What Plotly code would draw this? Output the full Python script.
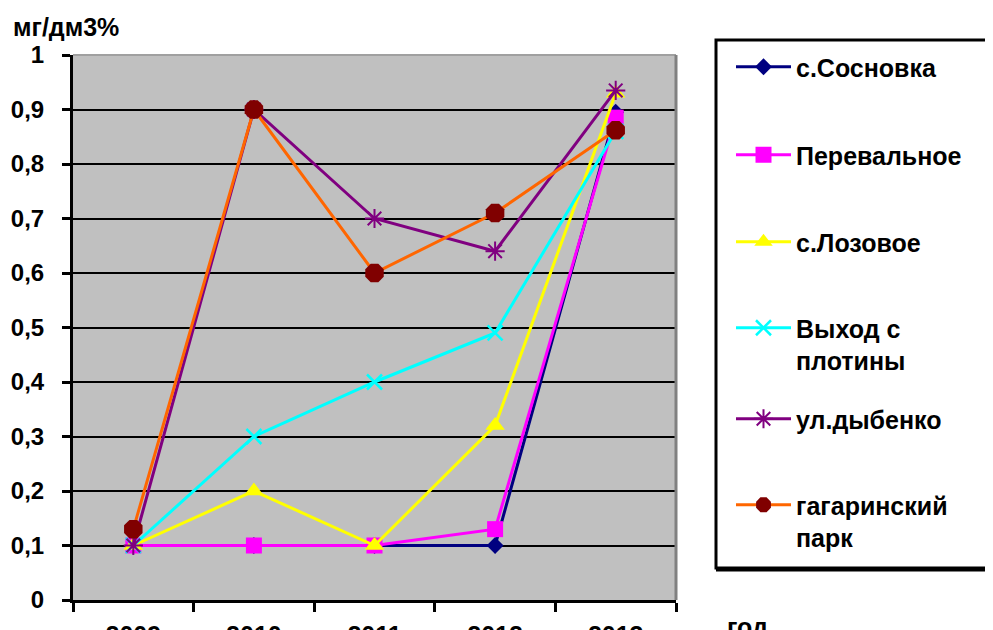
import plotly.graph_objects as go

years = ["2009", "2010", "2011", "2012", "2013"]
sosnovka = [0.1, 0.1, 0.1, 0.1, 0.895]
perevalnoe = [0.1, 0.1, 0.1, 0.13, 0.885]
lozovoe = [0.1, 0.2, 0.1, 0.32, 0.93]
vyhod = [0.1, 0.3, 0.4, 0.49, 0.86]
dybenko = [0.1, 0.9, 0.7, 0.64, 0.935]
gagarin = [0.13, 0.9, 0.6, 0.71, 0.862]

names = ["с.Сосновка", "Перевальное", "с.Лозовое", "Выход с<br>плотины", "ул.дыбенко", "гагаринский<br>парк"]
y_tickvals = [0, 0.1, 0.2, 0.3, 0.4, 0.5, 0.6, 0.7, 0.8, 0.9, 1]
y_ticktext = ["0", "0,1", "0,2", "0,3", "0,4", "0,5", "0,6", "0,7", "0,8", "0,9", "1"]

FONT = "Arial, Liberation Sans, sans-serif"

series = [
    (sosnovka, "#000080", "#000080", "diamond", 13, None),
    (perevalnoe, "#FF00FF", "#FF00FF", "square", 16, None),
    (lozovoe, "#FFFF00", "#FFFF00", "triangle-up", 17, None),
    (vyhod, "#00FFFF", "#00FFFF", "x-thin-open", 15, 2.5),
    (dybenko, "#800080", "#800080", "asterisk-open", 16, 2),
    (gagarin, "#FF6600", "#800000", "octagon", 20, None),
]

# page offset of the figure (default body margin)
OFF = 8
L, R, T, B = 73, 676, 55, 600   # plot area in page pixels
W, H = 993 - OFF, 630 - OFF
pw, ph = R - L, B - T

def px_x(p):
    return (p - L) / pw

def px_y(p):
    return (B - p) / ph

legend_ids = ["legend", "legend2", "legend3", "legend4", "legend5", "legend6"]
legend_tops = [44, 132, 219, 305, 396, 482]

fig = go.Figure()
for i, (vals, lc, mc, sym, ms, mlw) in enumerate(series):
    marker = dict(symbol=sym, size=ms, color=mc)
    if mlw:
        marker["line"] = dict(color=mc, width=mlw)
    else:
        marker["line"] = dict(width=0)
    fig.add_trace(go.Scatter(
        x=years, y=vals, name=names[i], mode="lines+markers",
        line=dict(color=lc, width=3), marker=marker,
        legend=legend_ids[i],
    ))

legends = {}
for lid, top in zip(legend_ids, legend_tops):
    legends[lid] = dict(
        x=px_x(731), y=px_y(top), xanchor="left", yanchor="top",
        bgcolor="rgba(0,0,0,0)", borderwidth=0,
        font=dict(family=FONT, size=25, color="black", weight="bold"),
        valign="top", itemwidth=55, maxheight=1000,
    )

fig.update_layout(
    width=W, height=H,
    margin=dict(l=L - OFF, r=W - (R - OFF), t=T - OFF, b=H - (B - OFF), pad=0, autoexpand=False),
    paper_bgcolor="white",
    plot_bgcolor="#C0C0C0",
    font=dict(family=FONT, size=22, color="black"),
    showlegend=True,
    xaxis=dict(
        type="category", range=[-0.5, 4.5], tickson="boundaries",
        showgrid=False, showline=True, linecolor="black", linewidth=3,
        ticks="outside", ticklen=9, tickwidth=3, tickcolor="black",
        tickfont=dict(family=FONT, size=25, color="black", weight="bold"),
        ticklabelstandoff=11, zeroline=False, fixedrange=True,
    ),
    yaxis=dict(
        range=[0, 1], tickvals=y_tickvals, ticktext=y_ticktext,
        showgrid=True, gridcolor="black", gridwidth=2,
        showline=True, linecolor="black", linewidth=3,
        ticks="outside", ticklen=8, tickwidth=3, tickcolor="black",
        tickfont=dict(family=FONT, size=24, color="black", weight="bold"),
        ticklabelstandoff=13, zeroline=False, fixedrange=True,
    ),
    shapes=[
        dict(type="line", xref="paper", yref="paper", x0=0, x1=1, y0=1, y1=1,
             line=dict(color="#A0A0A0", width=2), layer="below"),
        dict(type="line", xref="paper", yref="paper", x0=1, x1=1, y0=0, y1=1,
             line=dict(color="#808080", width=3)),
        dict(type="rect", xref="paper", yref="paper",
             x0=px_x(716), x1=px_x(1005), y0=px_y(568), y1=px_y(40),
             line=dict(color="black", width=3)),
        dict(type="line", xref="paper", yref="paper",
             x0=px_x(716), x1=px_x(1005), y0=px_y(570), y1=px_y(570),
             line=dict(color="black", width=3)),
    ],
    annotations=[
        dict(text="мг/дм3%", xref="paper", yref="paper", x=px_x(11), y=px_y(27),
             xanchor="left", yanchor="middle", showarrow=False,
             font=dict(family=FONT, size=25, color="black", weight="bold")),
        dict(text="год", xref="paper", yref="paper", x=px_x(748), y=px_y(627),
             xanchor="center", yanchor="middle", showarrow=False,
             font=dict(family=FONT, size=25, color="black", weight="bold")),
    ],
    **legends,
)

fig.write_html("out.html")
